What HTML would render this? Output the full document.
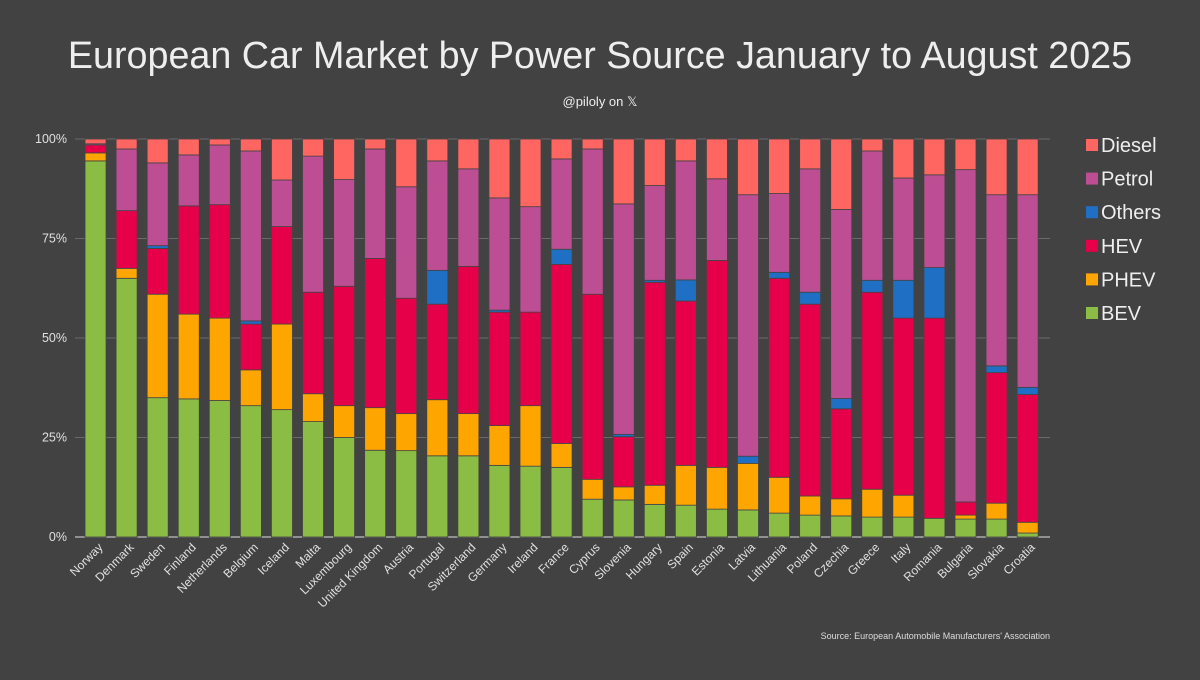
<!DOCTYPE html>
<html><head><meta charset="utf-8"><style>
html,body{margin:0;padding:0;background:#424242;}
body{width:1200px;height:675px;overflow:hidden;font-family:"Liberation Sans",sans-serif;}
</style></head><body>
<svg id="chart" width="1200" height="675" xmlns="http://www.w3.org/2000/svg" style="font-family:'Liberation Sans',sans-serif">
<rect width="1200" height="675" fill="#424242"/>
<text x="600" y="68" text-anchor="middle" font-size="37.7" fill="#eeeeee">European Car Market by Power Source January to August 2025</text>
<text x="600" y="106" text-anchor="middle" font-size="13" fill="#eeeeee">@piloly on 𝕏</text>
<text x="1050" y="639" text-anchor="end" font-size="9" fill="#dddddd">Source: European Automobile Manufacturers' Association</text>
<g id="grid"></g><g id="bars"></g><g id="xlabels"></g><g id="legend"></g>
</svg>
<script>
const categories=["Norway","Denmark","Sweden","Finland","Netherlands","Belgium","Iceland","Malta","Luxembourg","United Kingdom","Austria","Portugal","Switzerland","Germany","Ireland","France","Cyprus","Slovenia","Hungary","Spain","Estonia","Latvia","Lithuania","Poland","Czechia","Greece","Italy","Romania","Bulgaria","Slovakia","Croatia"];
const bev=[94.5,65,35,34.7,34.3,33,32,29,25,21.8,21.7,20.4,20.4,18,17.8,17.5,9.5,9.3,8.2,8,7,6.8,6,5.5,5.3,5,5,4.7,4.5,4.5,1];
const phev=[2,2.5,26,21.3,20.7,9,21.5,7,8,10.7,9.3,14.1,10.6,10,15.2,6,5,3.3,4.8,10,10.5,11.7,9,4.8,4.3,7,5.5,0,1,4,2.7];
const hev=[2,14.5,11.5,27.2,28.5,11.5,24.5,25.5,30,37.5,29,24,37,28.5,23.5,45,46.5,12.6,51,41.3,52,0,50,48.2,22.6,49.5,44.5,50.3,3.3,32.8,32.1];
const others=[0,0,0.7,0,0,0.8,0,0,0,0,0,8.5,0,0.5,0,3.8,0,0.6,0.5,5.3,0,1.8,1.5,3,2.6,3,9.5,12.7,0,1.7,1.8];
const petrol=[0.3,15.5,20.8,12.8,15,42.7,11.7,34.2,26.8,27.5,28,27.5,24.5,28.2,26.5,22.7,36.5,57.9,23.8,29.9,20.5,65.7,19.8,31,47.5,32.5,25.7,23.3,83.5,43,48.4];
const diesel=[1.2,2.5,6,4,1.5,3,10.3,4.3,10.2,2.5,12,5.5,7.5,14.8,17,5,2.5,16.3,11.7,5.5,10,14,13.7,7.5,17.7,3,9.8,9,7.7,14,14];
const seriesNames=["BEV","PHEV","HEV","Others","Petrol","Diesel"];
const yTicks=[0,25,50,75,100];
const yTickLabels=["0%","25%","50%","75%","100%"];

const NS="http://www.w3.org/2000/svg";
const series=[bev,phev,hev,others,petrol,diesel];
const colors=["#8bbd45","#ffa500","#e6004a","#1f6fc5","#bd4e93","#ff6561"];
const left=80,band=31.07,bw=21,y0=537,y100=139;
function x(i){return left+band*(i+0.5);}
function y(v){return y0-(y0-y100)*v/100;}
function mk(tag,attrs,parent){const e=document.createElementNS(NS,tag);for(const k in attrs)e.setAttribute(k,attrs[k]);parent.appendChild(e);return e;}
const grid=document.getElementById('grid');
yTicks.forEach((t,k)=>{
  if(t>0){const l=mk('line',{x1:75,x2:1050,y1:y(t),y2:y(t),stroke:'#6a6a6a','stroke-width':1},grid);
  
  }
  const tx=mk('text',{x:67,y:y(t)+4,'text-anchor':'end','font-size':12.5,fill:'#e0e0e0'},grid);
  tx.textContent=yTickLabels[k];
  
  
});
const bars=document.getElementById('bars');
categories.forEach((c,i)=>{
  let acc=0;
  series.forEach((s,j)=>{
    const v=s[i];if(v<=0)return;
    const r=mk('rect',{x:x(i)-bw/2,y:y(acc+v),width:bw,height:y(acc)-y(acc+v),fill:colors[j],stroke:'#444','stroke-width':0.8},bars);
    
    
    acc+=v;
  });
});
const base=mk('line',{x1:75,x2:1050,y1:y0,y2:y0,stroke:'#dddddd','stroke-width':1},grid);


const xl=document.getElementById('xlabels');
categories.forEach((c,i)=>{
  const px=x(i)+8,py=548;
  const t=mk('text',{x:px,y:py,'text-anchor':'end','font-size':12,fill:'#e0e0e0',transform:`rotate(-45 ${px} ${py})`},xl);
  t.textContent=c;
  
  
});
const lg=document.getElementById('legend');
const order=[5,4,3,2,1,0];
order.forEach((j,k)=>{
  const cy=145+k*33.6;
  const g=mk('g',{},lg);
  
  
  mk('rect',{x:1086,y:cy-6,width:12,height:12,fill:colors[j]},g);
  const t=mk('text',{x:1101,y:cy+7,'font-size':20,fill:'#eeeeee'},g);
  t.textContent=seriesNames[j];
});
</script>
</body></html>
